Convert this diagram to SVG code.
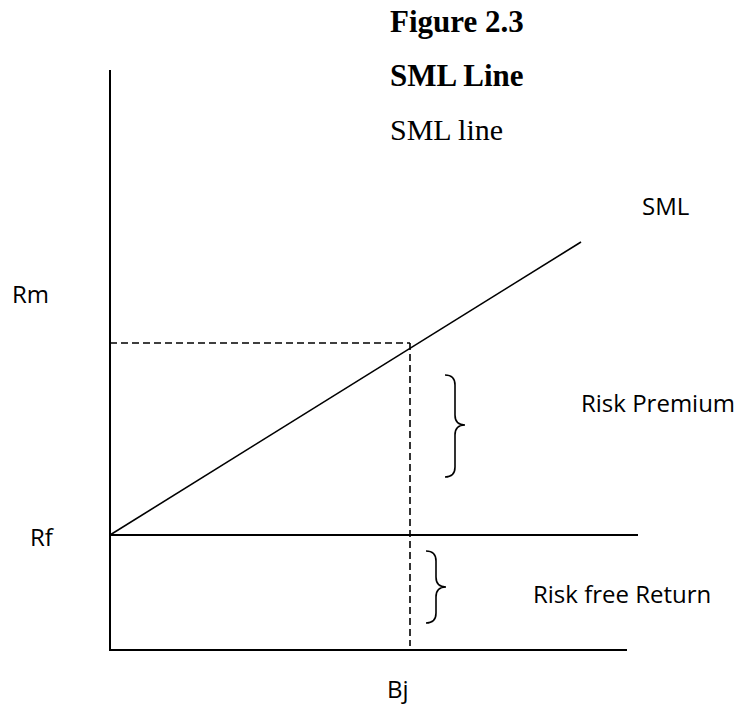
<svg xmlns="http://www.w3.org/2000/svg" width="743" height="707" viewBox="0 0 743 707">
<style>
.title{font-family:"Liberation Serif",serif;font-weight:bold;font-size:31px;fill:#000}
.serif{font-family:"Liberation Serif",serif;font-size:30px;fill:#000}
.lbl{font-family:"Open Sans","Noto Sans",sans-serif;font-size:24px;fill:#000}
.ax{stroke:#000;stroke-width:2;fill:none}
.ln{stroke:#000;stroke-width:1.6;fill:none}
.dash{stroke:#000;stroke-width:1.6;fill:none;stroke-dasharray:7,4}
.brace{stroke:#000;stroke-width:1.6;fill:none}
</style>
<rect width="743" height="707" fill="#fff"/>
<g id="title">
<text class="title" x="390" y="32">Figure 2.3</text>
<text class="title" x="390" y="86">SML Line</text>
<text class="serif" x="390" y="140">SML line</text>
</g>
<g id="connectors">
<line class="ax" x1="110" y1="70" x2="110" y2="651"/>
<line class="ax" x1="109" y1="650" x2="627" y2="650"/>
<line class="ax" x1="110" y1="535" x2="638" y2="535"/>
<line class="ln" x1="110" y1="535" x2="581" y2="242"/>
<line class="dash" x1="110" y1="343" x2="410" y2="343"/>
<line class="dash" x1="410" y1="343" x2="410" y2="646"/>
</g>
<g id="brace-premium">
<path class="brace" d="M445,375 Q455,375 455,385 L455,415 Q455,425 465,425 Q455,425 455,435 L455,467 Q455,477 445,477"/>
</g>
<g id="brace-riskfree">
<path class="brace" d="M426,551 Q436,551 436,561 L436,577 Q436,587 446,587 Q436,587 436,597 L436,613 Q436,623 426,623"/>
</g>
<g id="labels">
<text class="lbl" x="642" y="215">SML</text>
<text class="lbl" x="12" y="303">Rm</text>
<text class="lbl" x="30" y="546">Rf</text>
<text class="lbl" x="581" y="412">Risk Premium</text>
<text class="lbl" x="533" y="603">Risk free Return</text>
<text class="lbl" x="387" y="698">Bj</text>
</g>
</svg>
